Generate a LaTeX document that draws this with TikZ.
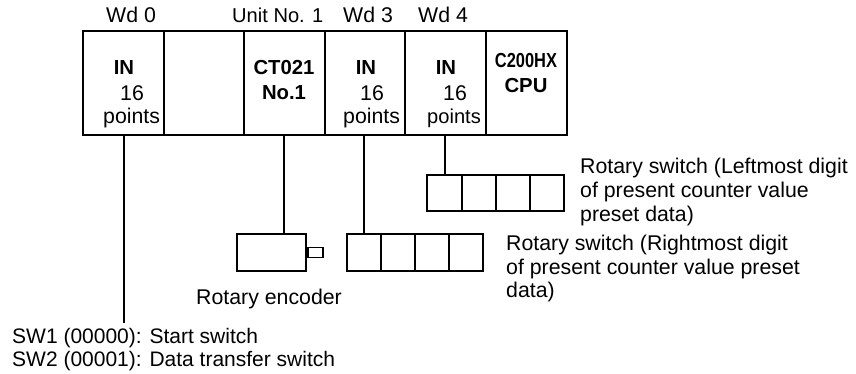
\documentclass[tikz,border=0pt]{standalone}
\usepackage{fontspec}
\setmainfont{Liberation Sans}
\usetikzlibrary{arrows}
\tikzset{
  txt/.style={inner sep=0pt,anchor=west,font=\fontsize{21.3}{24}\selectfont},
  small/.style={txt,font=\fontsize{20.1}{24}\selectfont},
  note/.style={txt,font=\fontsize{21}{24}\selectfont},
  bold/.style={txt,anchor=center,font=\fontsize{20.3}{24}\selectfont\bfseries},
  heavy/.style={line width=1.9pt},
  thin/.style={line width=1.2pt}
}
\begin{document}
\begin{tikzpicture}[x=1pt,y=-1pt]
	\useasboundingbox (0,0) rectangle (856,374);
	% rack
	\draw[heavy] (83,31) rectangle (567,135);
	\draw[thin] (164,31) -- (164,135);
	\draw[thin] (244,31) -- (244,135);
	\draw[thin] (325,31) -- (325,135);
	\draw[thin] (405,31) -- (405,135);
	\draw[thin] (486,31) -- (486,135);
	\coordinate (wd0) at (124,135);
	\coordinate (unit1) at (284,135);
	\coordinate (wd3) at (364,135);
	\coordinate (wd4) at (445,135);
	% labels above
	\node[txt] (l0) at (106,15) {Wd 0};
	\node[small] (l1) at (232,15) {Unit No. 1};
	\node[txt] (l3) at (343,15) {Wd 3};
	\node[txt] (l4) at (418,15) {Wd 4};
	% modules
	\node[bold] (in0) at (124,68) {IN};
	\node[txt] (n0) at (120,93) {16};
	\node[txt] (p0) at (103,118) {points};
	\node[bold] (ct) at (284,68) {CT021};
	\node[bold] (no) at (284,93) {No.1};
	\node[bold] (in3) at (366,68) {IN};
	\node[txt] (n3) at (360,93) {16};
	\node[txt] (p3) at (343,118) {points};
	\node[bold] (in4) at (446,68) {IN};
	\node[txt] (n4) at (443,93) {16};
	\node[small] (p4) at (427,118) {points};
	\node[bold] (hx) at (526,61) {\scalebox{.81}[1]{C200HX}};
	\node[bold] (cpu) at (526,86) {CPU};
	% devices
	\node[draw,heavy,minimum width=69pt,minimum height=37pt,inner sep=0pt] (enc) at (271.5,252.5) {};
	\node[draw,heavy,minimum width=15pt,minimum height=10pt,inner sep=0pt,anchor=west] (shaft) at (enc.east) {};
	\coordinate (swa) at (364,234);
	\draw[heavy] (347,234) rectangle (483,271);
	\draw[thin] (381,234) -- (381,271);
	\draw[thin] (415,234) -- (415,271);
	\draw[thin] (449,234) -- (449,271);
	\coordinate (swb) at (445,175);
	\draw[heavy] (427,175) rectangle (564,211);
	\draw[thin] (462,175) -- (462,211);
	\draw[thin] (496,175) -- (496,211);
	\draw[thin] (530,175) -- (530,211);
	\coordinate (sw) at (124,323);
	% wires
	\draw[thin] (wd0) -- (sw);
	\draw[thin] (unit1) -- (unit1|-enc.north);
	\draw[thin] (wd3) -- (swa);
	\draw[thin] (wd4) -- (swb);
	% texts
	\node[txt] (t1) at (580,168) {Rotary switch (Leftmost digit};
	\node[txt] (t2) at (580,192) {of present counter value};
	\node[txt] (t3) at (580,216) {preset data)};
	\node[txt] (t4) at (506,245) {Rotary switch (Rightmost digit};
	\node[txt] (t5) at (506,269) {of present counter value preset};
	\node[txt] (t6) at (506,292) {data)};
	\node[txt] (t7) at (196,299) {Rotary encoder};
	\node[note] (t8) at (12,338) {SW1 (00000): Start switch};
	\node[note] (t9) at (12,361) {SW2 (00001): Data transfer switch};
\end{tikzpicture}
\end{document}
